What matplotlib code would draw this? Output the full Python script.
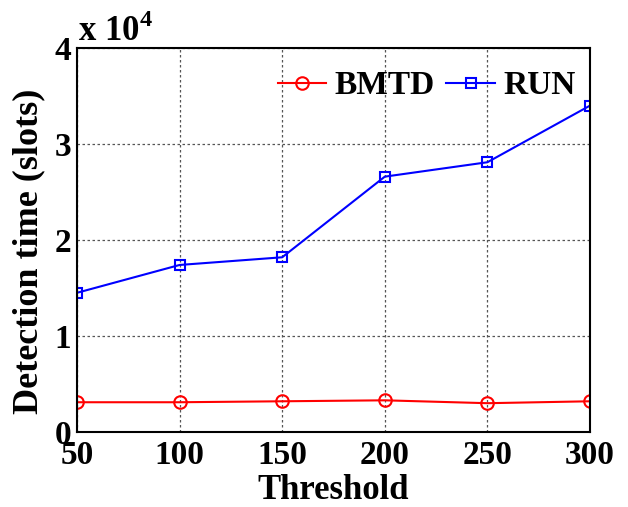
import matplotlib
matplotlib.use("Agg")
import matplotlib.pyplot as plt

# data
thresholds = [50, 100, 150, 200, 250, 300]
bmtd = [3100, 3100, 3200, 3300, 3000, 3200]
run = [14500, 17400, 18200, 26600, 28100, 34000]

plt.rcParams['font.family'] = ['Liberation Serif', 'DejaVu Serif']
plt.rcParams['font.weight'] = 'bold'
plt.rcParams['mathtext.fontset'] = 'custom'
plt.rcParams['mathtext.bf'] = 'Liberation Serif:bold'
plt.rcParams['mathtext.rm'] = 'Liberation Serif:bold'

fig = plt.figure(figsize=(6.28, 5.07), dpi=100)
ax = fig.add_axes([77 / 628, 1 - 432 / 507, (590 - 77) / 628, (432 - 48) / 507])

ax.plot(thresholds, [v / 1e4 for v in bmtd], color='red', lw=1.5, marker='o',
        markersize=9, markerfacecolor='none', markeredgewidth=1.5, label='BMTD')
ax.plot(thresholds, [v / 1e4 for v in run], color='blue', lw=1.5, marker='s',
        markersize=7, markerfacecolor='none', markeredgewidth=1.5, label='RUN')

ax.set_xlim(50, 300)
ax.set_ylim(0, 4)
ax.set_xticks(thresholds)
ax.set_yticks([0, 1, 2, 3, 4])
ax.grid(True, linestyle=(0, (2, 2)), color='#555555', linewidth=0.9)
ax.tick_params(direction='in', labelsize=24, length=0)
ax.tick_params(axis='x', pad=6)
ax.tick_params(axis='y', pad=4)
for lab in ax.get_xticklabels() + ax.get_yticklabels():
    lab.set_fontweight('bold')
for s in ax.spines.values():
    s.set_linewidth(1.5)

ax.set_xlabel('Threshold', fontsize=25, fontweight='bold', labelpad=2)
ax.set_ylabel('Detection time (slots)', fontsize=26, fontweight='bold')
ax.yaxis.set_label_coords(-0.062, 0.47)

fig.text(78 / 628, 1 - 41 / 507, r'x 10$^{\mathrm{4}}$', fontsize=25, fontweight='bold',
         ha='left', va='baseline')

ax.legend(loc='upper right', ncol=2, frameon=False, handlelength=1.45,
          columnspacing=0.35, handletextpad=0.25, bbox_to_anchor=(1.03, 1.02),
          prop={'weight': 'bold', 'size': 24})

fig.savefig('out.png', dpi=100)
